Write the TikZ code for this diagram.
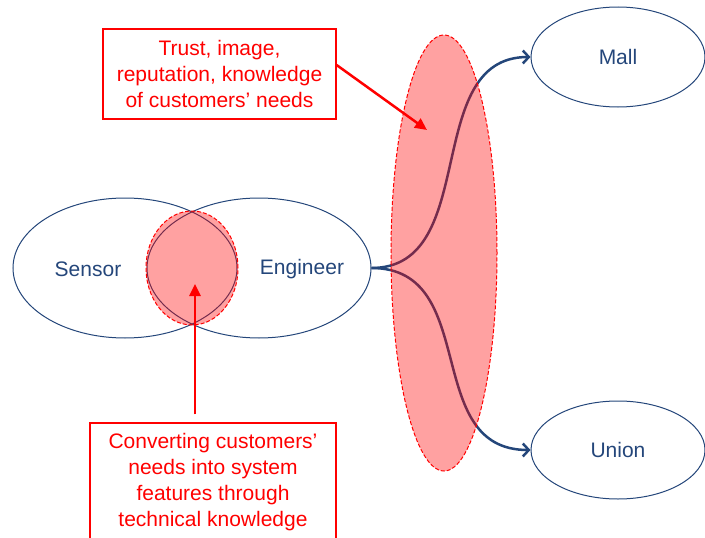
\documentclass[tikz,border=0pt]{standalone}
\usepackage{fontspec}
\setmainfont{Liberation Sans}
\usetikzlibrary{arrows.meta, shapes.geometric}
\definecolor{navy}{RGB}{36,70,122}

\begin{document}
\begin{tikzpicture}[x=1pt, y=-1pt, font=\fontsize{21}{26}\selectfont]
\useasboundingbox (0,0) rectangle (705,538);

\begin{scope}[every node/.style={ellipse,draw=navy,line width=1pt,inner sep=0pt,text=navy}]
    \node[minimum width=224pt, minimum height=140pt] (sensor) at (125,268) {};
    \node[minimum width=224pt, minimum height=140pt] (engineer) at (259,268) {};
    \node[minimum width=174pt, minimum height=100pt] (mall) at (618,57) {Mall};
    \node[minimum width=174pt, minimum height=98pt] (union) at (618,450) {Union};
\end{scope}
\node[text=navy] (sensorname) at (88,269) {Sensor};
\node[text=navy] (engineername) at (302,269) {Engineer};

% who the engineer deals with
\begin{scope}[>={Straight Barb[length=6pt,width=13pt]}, line width=2.5pt, color=navy]
    \draw[->] (engineer.east) .. controls +(110,0) and +(-110,0) .. (mall.west);
    \draw[->] (engineer.east) .. controls +(110,0) and +(-110,0) .. (union.west);
\end{scope}

\begin{scope}[every node/.style={ellipse,draw=red,dash pattern=on 4pt off 2pt,line width=1pt,
              fill=red,fill opacity=0.37,draw opacity=1,inner sep=0pt}]
    \node[minimum width=92pt, minimum height=114pt] (overlap) at (192,268) {};
    \node[minimum width=106pt, minimum height=436pt] (market) at (444,253) {};
\end{scope}

\begin{scope}[every node/.style={draw=red,line width=1.2pt,text=red,align=center,inner sep=0pt}]
    \node[minimum width=233pt, minimum height=90pt] (trust) at (219.5,74)
        {Trust, image,\\reputation, knowledge\\of customers’ needs};
    \node[minimum width=246pt, minimum height=119pt] (convert) at (213,482.5)
        {Converting customers’\\needs into system\\features through\\technical knowledge};
\end{scope}

\coordinate (markettip) at (427,130);
\coordinate (overlaptip) at (195,284);
\begin{scope}[>={Triangle[length=12pt,width=11pt]}, line width=2.5pt, color=red]
    \draw[->] ([yshift=9pt]trust.east) -- (markettip);
    \draw[->, shorten <=8pt] ([xshift=-18pt]convert.north) -- (overlaptip);
\end{scope}
\end{tikzpicture}
\end{document}
